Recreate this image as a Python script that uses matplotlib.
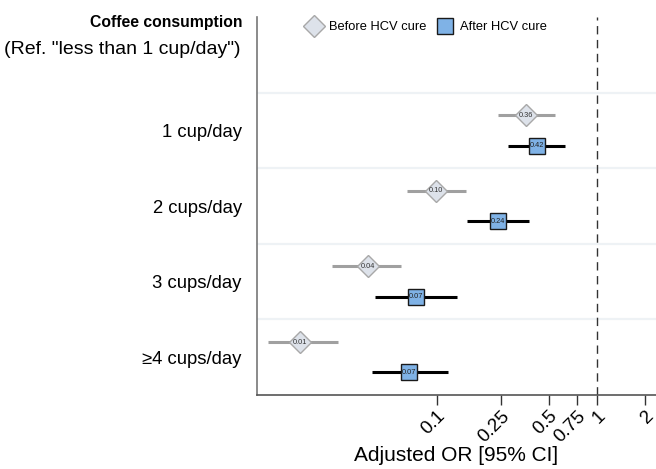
import matplotlib
matplotlib.use("Agg")
import matplotlib.pyplot as plt
from matplotlib.lines import Line2D
from matplotlib.ticker import FixedLocator, NullLocator

plt.rcParams['font.family'] = ['Liberation Sans', 'DejaVu Sans']

categories = ["1 cup/day", "2 cups/day", "3 cups/day", "\u22654 cups/day"]
before_or = [0.362, 0.099, 0.037, 0.014]
before_lo = [0.24, 0.065, 0.022, 0.0088]
before_hi = [0.55, 0.152, 0.060, 0.024]
after_or = [0.42, 0.24, 0.074, 0.067]
after_lo = [0.28, 0.154, 0.041, 0.039]
after_hi = [0.63, 0.376, 0.133, 0.117]
xticks = [0.1, 0.25, 0.5, 0.75, 1, 2]
xticklabels = ["0.1", "0.25", "0.5", "0.75", "1", "2"]

fig = plt.figure(figsize=(6.56, 4.69), dpi=100)
ax = fig.add_axes([257/656, 1-395/469, 1-257/656, (395-17)/469])

ax.set_xscale('log')
ax.set_xlim(0.0075, 2.34)
ax.set_ylim(4.5, -0.5)

# row separators
for yb in [0.5, 1.5, 2.5, 3.5]:
    ax.axhline(yb, color='#eef2f5', lw=1.6, zorder=0)
ax.axvline(1, color='#333333', lw=1.0, ls=(0, (6, 4)), zorder=1)

off = 0.2
for i in range(len(categories)):
    y = i + 1
    yb = y - off
    ya = y + off
    ax.plot([before_lo[i], before_hi[i]], [yb, yb], color='#a0a0a0', lw=2.2, zorder=2, solid_capstyle='butt')
    ax.plot([before_or[i]], [yb], marker='D', ms=11, mfc='#dde2ea', mec='#a8a8a8', mew=1.0, zorder=3)
    ax.text(before_or[i], yb, f"{before_or[i]:.2f}", fontsize=5.3, ha='center', va='center', zorder=4, color='#333333')
    ax.plot([after_lo[i], after_hi[i]], [ya, ya], color='black', lw=2.2, zorder=2, solid_capstyle='butt')
    ax.plot([after_or[i]], [ya], marker='s', ms=11.5, mfc='#7fb2e6', mec='#1a1a1a', mew=1.0, zorder=3)
    ax.text(after_or[i], ya, f"{after_or[i]:.2f}", fontsize=5.3, ha='center', va='center', zorder=4, color='#222222')

ax.set_yticks([1, 2, 3, 4])
ax.set_yticklabels(categories, fontsize=13.3)
ax.tick_params(axis='y', length=0, pad=11)

ax.xaxis.set_major_locator(FixedLocator(xticks))
ax.xaxis.set_minor_locator(NullLocator())
ax.set_xticklabels(xticklabels, fontsize=13.5, rotation=45, ha='right', va='top', rotation_mode='anchor')
ax.tick_params(axis='x', length=7, width=1, color='#333333', direction='out', pad=2)
ax.set_xlabel("Adjusted OR [95% CI]", fontsize=15, va='center')
ax.xaxis.set_label_coords(0.5, -60/378)

for s in ['top', 'right']:
    ax.spines[s].set_visible(False)
ax.spines['left'].set_color('#777777')
ax.spines['left'].set_linewidth(1.2)
ax.spines['bottom'].set_color('#555555')
ax.spines['bottom'].set_linewidth(1.2)

fig.text(243/656, 1-22/469, "Coffee consumption", fontsize=11.3, fontweight='bold', ha='right', va='center')
fig.text(241/656, 1-49/469, "(Ref. \"less than 1 cup/day\")", fontsize=14, ha='right', va='center')

handles = [
    Line2D([], [], ls='none', marker='D', ms=11, mfc='#dde2ea', mec='#a8a8a8', mew=1.0),
    Line2D([], [], ls='none', marker='s', ms=11.5, mfc='#7fb2e6', mec='#1a1a1a', mew=1.0),
]
ax.legend(handles, ["Before HCV cure", "After HCV cure"], loc='center left',
          bbox_to_anchor=(0.11, 0.973), ncol=2, frameon=False, fontsize=9.3,
          handletextpad=0.55, columnspacing=0.9, handlelength=1.2, borderaxespad=0)

fig.savefig("out.png", dpi=100)
